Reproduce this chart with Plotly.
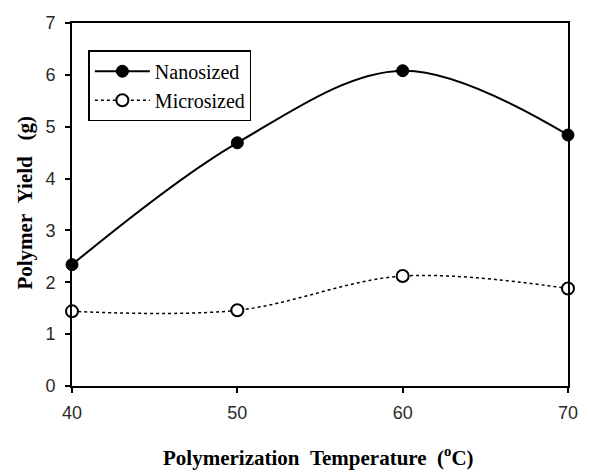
import plotly.graph_objects as go

# Polymerization temperature (deg C) and polymer yield (g)
temperature = [40, 50, 60, 70]
yield_nano = [2.34, 4.69, 6.08, 4.84]
yield_micro = [1.44, 1.46, 2.12, 1.88]

x_ticks = [40, 50, 60, 70]
y_ticks = [0, 1, 2, 3, 4, 5, 6, 7]

serif = "Liberation Serif"
sans = "Liberation Sans"

fig = go.Figure()

fig.add_trace(go.Scatter(
    x=temperature, y=yield_nano, name="Nanosized",
    mode="lines+markers",
    line=dict(color="black", width=2, shape="spline", smoothing=1.0),
    marker=dict(symbol="circle", size=12, color="black",
                line=dict(color="black", width=1)),
    cliponaxis=False,
))

fig.add_trace(go.Scatter(
    x=temperature, y=yield_micro, name="Microsized",
    mode="lines+markers",
    line=dict(color="black", width=1.5, dash="dot", shape="spline", smoothing=1.0),
    marker=dict(symbol="circle", size=12, color="white",
                line=dict(color="black", width=2)),
    cliponaxis=False,
))

fig.update_layout(
    width=589, height=472,
    margin=dict(l=72, r=11, t=23, b=86),
    paper_bgcolor="white", plot_bgcolor="white",
    showlegend=True,
    legend=dict(
        x=0.033, y=0.925, xanchor="left", yanchor="top",
        bgcolor="white", bordercolor="black", borderwidth=1.5,
        font=dict(family=serif, size=20, color="black"),
        tracegroupgap=0, itemwidth=55,
    ),
    annotations=[
        dict(text="<b>Polymerization\u00a0\u00a0Temperature\u00a0\u00a0(<sup>o</sup>C)</b>",
             xref="paper", yref="paper", x=0.497, y=-0.195,
             xanchor="center", yanchor="middle", showarrow=False,
             font=dict(family=serif, size=21, color="black")),
        dict(text="<b>Polymer\u00a0\u00a0Yield\u00a0\u00a0\u00a0(g)</b>",
             xref="paper", yref="paper", x=-0.095, y=0.505,
             xanchor="center", yanchor="middle", showarrow=False, textangle=-90,
             font=dict(family=serif, size=21, color="black")),
    ],
)

fig.update_xaxes(
    range=[40, 70], tickvals=x_ticks, ticks="outside", ticklen=5,
    tickwidth=1.5, tickcolor="black", ticklabelstandoff=4,
    showline=True, linecolor="black", linewidth=2, mirror=True,
    showgrid=False, zeroline=False,
    tickfont=dict(family=sans, size=18, color="#2a2a2a"),
)
fig.update_yaxes(
    range=[0, 7], tickvals=y_ticks, ticks="outside", ticklen=5,
    tickwidth=1.5, tickcolor="black", ticklabelstandoff=6,
    showline=True, linecolor="black", linewidth=2, mirror=True,
    showgrid=False, zeroline=False,
    tickfont=dict(family=sans, size=18, color="#2a2a2a"),
)

fig.write_html("out.html")
